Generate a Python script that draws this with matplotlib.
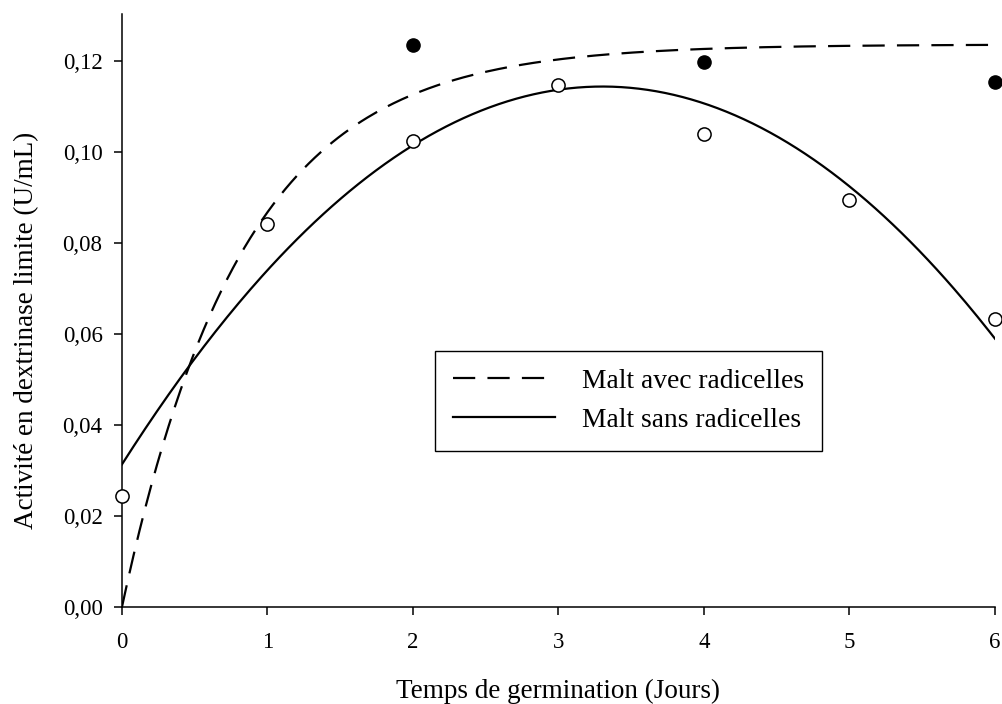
import numpy as np
import matplotlib
matplotlib.use("Agg")
import matplotlib.pyplot as plt

plt.rcParams['font.family'] = ['Liberation Serif', 'DejaVu Serif']

# Malt sans radicelles (open circles)
jours_sans = [0, 1, 2, 3, 4, 5, 6]
activite_sans = [0.0244, 0.0842, 0.1024, 0.1147, 0.1040, 0.0895, 0.0633]

# Malt avec radicelles (filled circles)
jours_avec = [2, 4, 6]
activite_avec = [0.1235, 0.1198, 0.1154]

# exponential rise to max fitted for "avec" : a * (1 - exp(-b*x))
avec_plateau = 0.1236
avec_rate = 1.21

x_ticks = [0, 1, 2, 3, 4, 5, 6]
y_ticks = [0.00, 0.02, 0.04, 0.06, 0.08, 0.10, 0.12]

# quadratic regression of the "sans" points
coef_sans = np.polyfit(jours_sans, activite_sans, 2)

xs = np.linspace(0, 6, 300)
fit_sans = np.polyval(coef_sans, xs)
fit_avec = avec_plateau * (1 - np.exp(-avec_rate * xs))

fig = plt.figure(figsize=(10.03, 7.04), dpi=100)
ax = fig.add_axes([0.1216, 0.1378, 0.8704, 0.8423])

ax.plot(xs, fit_avec, color='black', linewidth=1.6, linestyle=(0, (10, 5.5)),
        label='Malt avec radicelles')
ax.plot(xs, fit_sans, color='black', linewidth=1.6, label='Malt sans radicelles')

ax.plot(jours_avec, activite_avec, 'o', color='black', markersize=9.5, clip_on=False, zorder=5)
ax.plot(jours_sans, activite_sans, 'o', markerfacecolor='white', markeredgecolor='black',
        markeredgewidth=1.1, markersize=9.5, clip_on=False, zorder=5)

ax.set_xlim(0, 6)
ax.set_ylim(0, 0.1303)
ax.set_xticks(x_ticks)
ax.set_yticks(y_ticks)
ax.set_yticklabels([f"{v:.2f}".replace('.', ',') for v in y_ticks])

ax.spines['top'].set_visible(False)
ax.spines['right'].set_visible(False)
for s in ['left', 'bottom']:
    ax.spines[s].set_linewidth(1.1)
ax.tick_params(direction='out', length=6, width=1.1, labelsize=16.5)
ax.tick_params(axis='y', pad=8)
ax.tick_params(axis='x', pad=12)

ax.set_xlabel('Temps de germination (Jours)', fontsize=19.5)
ax.set_ylabel('Activité en dextrinase limite (U/mL)', fontsize=19.5)
ax.xaxis.set_label_coords(0.5, -0.121)
ax.yaxis.set_label_coords(-0.095, 0.467)

leg = ax.legend(loc='upper left', bbox_to_anchor=(0.3585, 0.4317), borderaxespad=0,
                fontsize=19.8, handlelength=3.7, handletextpad=1.0, borderpad=0.65,
                labelspacing=0.5, fancybox=False, framealpha=1)
leg.get_frame().set_edgecolor('black')
leg.get_frame().set_linewidth(1.0)

fig.savefig('out.png', dpi=100)
